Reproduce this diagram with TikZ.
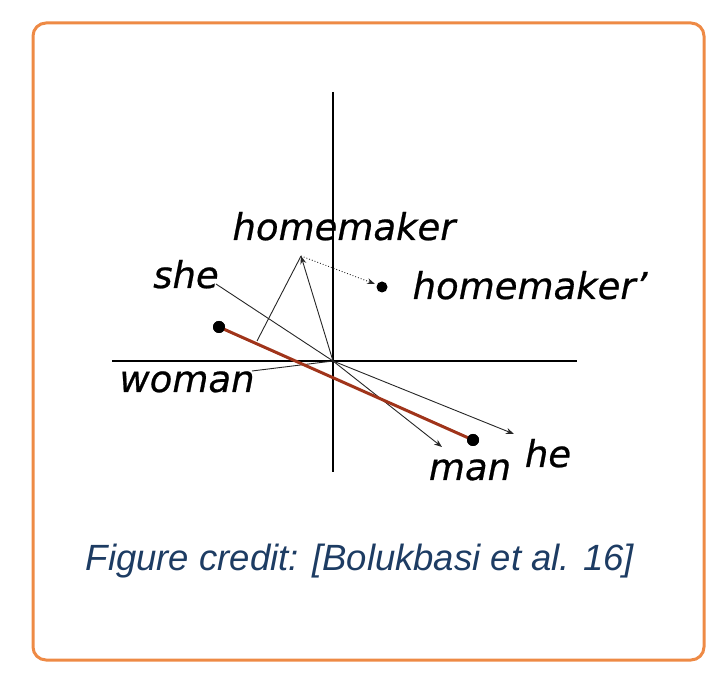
\documentclass[tikz,border=0pt]{standalone}
\usepackage{fontspec}
\setsansfont{DejaVu Sans}
\newfontfamily\wordfont[ItalicFeatures={FakeBold=0.6}]{DejaVu Sans}
\newfontfamily\creditfont{Liberation Sans}
\usetikzlibrary{arrows.meta}
\definecolor{frameorange}{HTML}{EE8A45}
\definecolor{biasred}{HTML}{A0341A}
\definecolor{creditblue}{HTML}{1D3C63}
\tikzset{
  word/.style={font=\fontsize{37}{40}\selectfont\wordfont\itshape,anchor=base,inner sep=0pt},
  vec/.style={black!85,line width=0.9,-{Stealth[length=8,width=6]}},
  axis/.style={black,line width=1.5},
  pt/.style={circle,fill=black,inner sep=0pt,minimum size=12}
}
\begin{document}
\begin{tikzpicture}[x=1pt,y=-1pt]
  \useasboundingbox (0,0) rectangle (724,676);
  \draw[frameorange,line width=3,rounded corners=13] (33,23) rectangle (704,660);
  % axes
  \coordinate (top) at (333,92);
  \coordinate (bot) at (333,472);
  \coordinate (lft) at (112,361);
  \coordinate (rgt) at (577,361);
  \coordinate (o) at (333,361);
  \draw[axis] (top) -- (bot);
  \draw[axis] (lft) -- (rgt);
  % words
  \draw
    (344,240) node[word] (hm){homemaker}
    (186,288) node[word] (she){she}
    (187,392) node[word] (woman){woman}
    (530,299) node[word] (hmp){homemaker’}
    (470,480) node[word] (man){man}
    (548,467) node[word] (he){he};
  \coordinate (hmtip) at (301,256);
  \coordinate (foot) at (257,341);
  \coordinate (sheend) at (216,284);
  \coordinate (womanend) at (252,371);
  \coordinate (hetip) at (514,434);
  \coordinate (mantip) at (442,447);
  \coordinate (hmpend) at (375,284);
  \node[pt] (wdot) at (219,327) {};
  \node[pt] (mdot) at (473,440) {};
  \node[pt,minimum size=11] (hmpdot) at (382,287) {};
  \begin{scope}[black!85,line width=0.9]
    \draw (o) to (sheend);
    \draw (o) to (womanend);
    \draw (foot) to (hmtip);
    \draw[vec] (o) to (hmtip);
    \draw[vec] (o) to (hetip);
    \draw[vec] (o) to (mantip);
    \draw[vec,dotted] (hmtip) to (hmpend);
  \end{scope}
  \draw[biasred,line width=3] (wdot.center) to (mdot.center);
  \node[pt] at (wdot) {};
  \node[pt] at (mdot) {};
  % credit line
  \node[font=\fontsize{36.5}{40}\selectfont\creditfont\itshape,text=creditblue,anchor=base,inner sep=0pt]
    (credit) at (360,571) {Figure credit: [Bolukbasi et al. 16]};
\end{tikzpicture}
\end{document}
